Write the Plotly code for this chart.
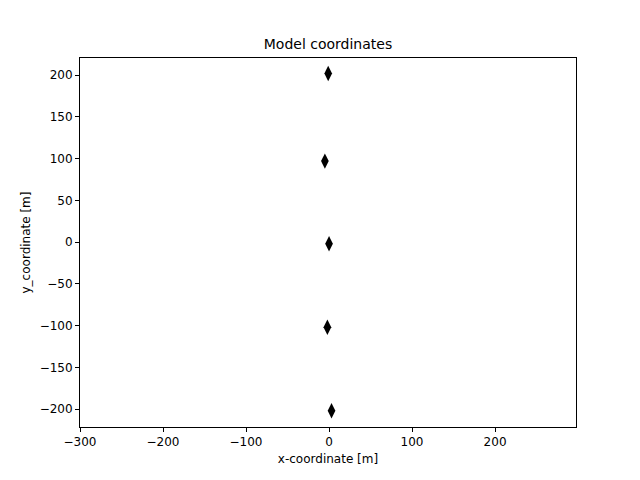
import plotly.graph_objects as go

# receiver positions
x_coord = [-1, -5, 0, -2, 3]
y_coord = [202, 97, -2, -102, -202]

x_ticks = [-300, -200, -100, 0, 100, 200]
y_ticks = [-200, -150, -100, -50, 0, 50, 100, 150, 200]

fig = go.Figure(go.Scatter(
    x=x_coord, y=y_coord, mode="markers",
    marker=dict(symbol="diamond-tall", size=11, color="black"),
))

axis_style = dict(
    showline=True, linecolor="black", linewidth=1, mirror=True,
    ticks="outside", ticklen=4, tickcolor="black",
    showgrid=False, zeroline=False,
    tickfont=dict(size=12, color="black"),
)

fig.update_layout(
    width=640, height=480,
    paper_bgcolor="white", plot_bgcolor="white",
    font=dict(family="DejaVu Sans", color="black"),
    margin=dict(l=72, r=72, t=50, b=61),
    title=dict(text="Model coordinates", x=0.5, xanchor="center",
               y=1 - 36 / 480, yanchor="middle", font=dict(size=14)),
    showlegend=False,
    xaxis=dict(axis_style, range=[-300, 297.5], tickvals=x_ticks,
               ticktext=[str(v).replace("-", "−") for v in x_ticks],
               title=dict(text="x-coordinate [m]", font=dict(size=12), standoff=6)),
    yaxis=dict(axis_style, range=[-221.5, 220.5], tickvals=y_ticks,
               ticktext=[str(v).replace("-", "−") for v in y_ticks],
               title=dict(text="y_coordinate [m]", font=dict(size=12), standoff=6)),
)

fig.write_html("out.html")
